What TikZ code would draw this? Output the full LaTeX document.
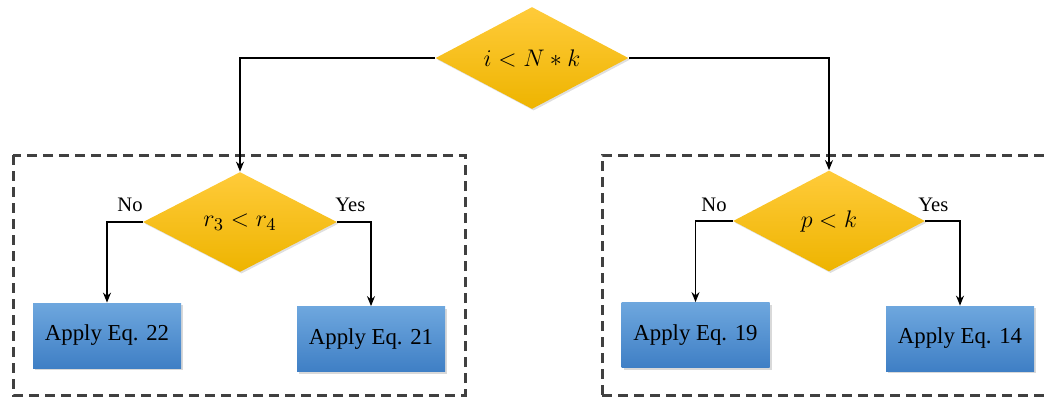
\documentclass[tikz,border=0pt]{standalone}
\usepackage{fontspec}
\setmainfont{Liberation Serif}
\usetikzlibrary{shapes.geometric,arrows.meta,shadows}

\definecolor{goldtop}{HTML}{FFCB3A}
\definecolor{goldbot}{HTML}{EEB400}
\definecolor{bluetop}{HTML}{6EA7DE}
\definecolor{bluebot}{HTML}{3F7FC5}
\definecolor{frame}{HTML}{404040}

\tikzset{
  decision/.style={diamond, draw=none, inner sep=0pt, shape aspect=1.9,
    top color=goldtop, bottom color=goldbot,
    drop shadow={opacity=0.25, shadow xshift=0.8pt, shadow yshift=-0.8pt},
    font=\fontsize{13}{15}\selectfont},
  action/.style={rectangle, draw=none, inner sep=0pt,
    minimum width=74pt, minimum height=32.5pt,
    top color=bluetop, bottom color=bluebot,
    drop shadow={opacity=0.3, shadow xshift=1pt, shadow yshift=-1pt},
    font=\fontsize{11.4}{13}\selectfont},
  branch/.style={font=\fontsize{10.3}{12}\selectfont, inner sep=0pt},
  flow/.style={draw=black, line width=0.7pt, -{Stealth[length=5pt,width=4pt]}},
  group/.style={draw=frame, line width=1.5pt, dash pattern=on 5pt off 3pt}
}

\begin{document}
\begin{tikzpicture}[x=0.5pt, y=-0.5pt]
  \useasboundingbox (0,0) rectangle (1048,398);

  % dashed group frames
  \draw[group] (13,155) rectangle (465,395);
  \draw[group] (602,395) -- (602,155) -- (1070,155);
  \draw[group] (602,395) -- (1070,395);

  % decisions
  \node[decision, minimum width=96.5pt, minimum height=51pt] (top) at (532,58) {$i < N * k$};
  \node[decision, minimum width=97pt, minimum height=50pt] (ld) at (240,222) {$r_3 < r_4$};
  \node[decision, minimum width=96pt, minimum height=50.5pt] (rd) at (829,221) {$p < k$};

  % actions
  \node[action] (a22) at (107,335.5) {Apply Eq. 22};
  \node[action] (a21) at (371,339) {Apply Eq. 21};
  \node[action] (a19) at (695.5,335) {Apply Eq. 19};
  \node[action] (a14) at (960,338.5) {Apply Eq. 14};

  % branch labels
  \node[branch, anchor=south east] (lno) at (143,212) {No};
  \node[branch, anchor=south west] (lyes) at (335,212) {Yes};
  \node[branch, anchor=south east] (rno) at (727,212) {No};
  \node[branch, anchor=south west] (ryes) at (918,212) {Yes};

  % connectors
  \draw[flow] (top.west) -| (ld.north);
  \draw[flow] (top.east) -| (rd.north);
  \draw[flow] (ld.west) -| (a22.north);
  \draw[flow] (ld.east) -| (a21.north);
  \draw[flow] (rd.west) -| (a19.north);
  \draw[flow] (rd.east) -| (a14.north);
\end{tikzpicture}
\end{document}
